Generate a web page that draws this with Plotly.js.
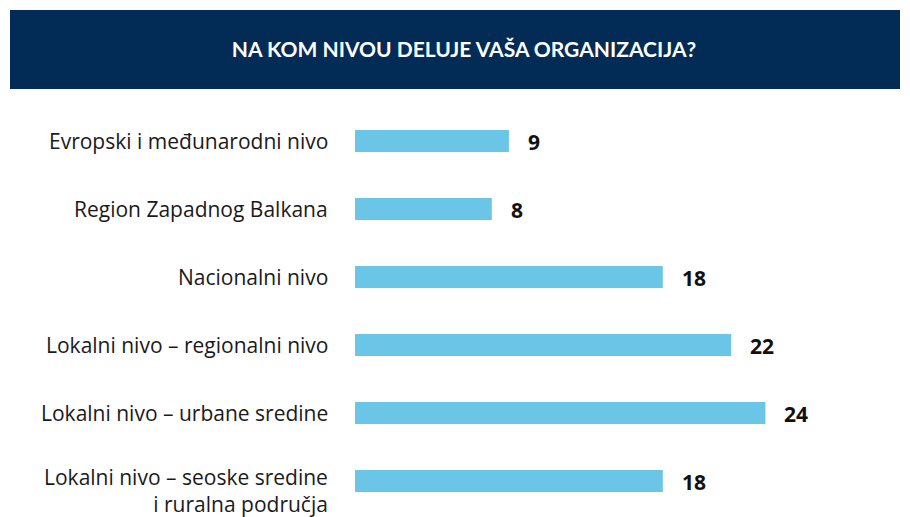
<!DOCTYPE html>
<html><head><meta charset="utf-8">
<script src="https://cdn.plot.ly/plotly-3.0.1.min.js"></script>
<style>html,body{margin:0;padding:0;background:#fff}#chart{width:910px;height:517px}</style>
</head><body><div id="chart"></div>
<script>
const categories = [
  "Evropski i međunarodni nivo",
  "Region Zapadnog Balkana",
  "Nacionalni nivo",
  "Lokalni nivo – regionalni nivo",
  "Lokalni nivo – urbane sredine",
  "Lokalni nivo – seoske sredine<br>i ruralna područja"
];
const values = [9, 8, 18, 22, 24, 18];
const titleText = "NA KOM NIVOU DELUJE VAŠA ORGANIZACIJA?";

const LABEL_FONT = "'Open Sans', 'Noto Sans', sans-serif";
const TITLE_FONT = "Lato, 'Open Sans', sans-serif";
const ids = categories.map((c, i) => i);

const trace = {
  type: 'bar', orientation: 'h',
  x: values, y: ids,
  width: 0.32,
  marker: {color: '#6ac5e7'},
  hoverinfo: 'skip'
};

const valueAnns = values.map((v, i) => ({
  x: v, y: ids[i], xref: 'x', yref: 'y',
  text: '<b>' + v + '</b>', showarrow: false,
  xanchor: 'left', yanchor: 'middle', xshift: 17, yshift: -1,
  font: {family: LABEL_FONT, size: 21, color: '#111'}
}));

const labelAnns = categories.map((c, i) => ({
  x: 0, y: ids[i], xref: 'paper', yref: 'y',
  text: c, showarrow: false, align: 'right',
  xanchor: 'right', yanchor: 'middle', xshift: -25,
  yshift: c.indexOf('<br>') >= 0 ? -9 : 0,
  font: {family: LABEL_FONT, size: 21, color: '#1a1a1a'}
}));

const layout = {
  width: 910, height: 517,
  margin: {l: 355, r: 42, t: 107, b: 2},
  paper_bgcolor: '#fff', plot_bgcolor: '#fff',
  showlegend: false,
  title: {
    text: '<b>' + titleText + '</b>',
    x: 464 / 910, xref: 'container', xanchor: 'center',
    y: 1 - 50/517, yref: 'container', yanchor: 'middle',
    font: {family: TITLE_FONT, size: 21, color: '#fff'}
  },
  xaxis: {range: [0, 30], visible: false, fixedrange: true},
  yaxis: {
    range: [5.5, -0.5], tickmode: 'array', tickvals: ids,
    showticklabels: false,
    showgrid: false, zeroline: false, showline: false, ticks: ''
  },
  shapes: [{
    type: 'rect', xref: 'paper', yref: 'paper',
    x0: (10 - 355) / 513, x1: (900 - 355) / 513,
    y0: (515 - 89) / 408, y1: (515 - 10) / 408,
    fillcolor: '#022c55', line: {width: 0}, layer: 'below'
  }],
  annotations: labelAnns.concat(valueAnns)
};

Plotly.newPlot('chart', [trace], layout, {displayModeBar: false, staticPlot: true});
</script></body></html>
